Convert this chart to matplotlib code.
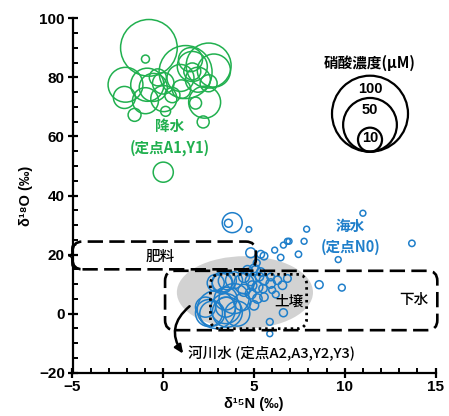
import numpy as np
import matplotlib
matplotlib.use("Agg")
import matplotlib.pyplot as plt
from matplotlib.patches import Ellipse, FancyBboxPatch
from matplotlib.ticker import MultipleLocator

# ---------------- data ----------------
# precipitation (green): d15N, d18O, nitrate (uM)
rain_x = [-0.79, -0.98, 2.5, 1.23, 2.79, -2.08, -0.88, -0.55, 0.95, 1.6, -2.14, -0.98,
          0.03, -1.58, 0.13, 2.28, 1.78, 2.2, 1.91, 1.6, 0.0, 1.0, -0.3, 2.5, 1.5, 0.5, 0.0]
rain_y = [90.0, 86.2, 84.0, 81.8, 82.3, 77.5, 77.5, 76.6, 79.8, 83.7, 73.2, 72.1,
          72.8, 67.3, 68.5, 71.6, 71.3, 64.9, 79.2, 82.0, 78.0, 76.0, 80.0, 78.0, 86.0, 74.0, 47.9]
rain_c = [55.6, 1.1, 35.0, 48.6, 19.0, 21.0, 19.0, 13.6, 12.6, 15.6, 8.4, 11.7,
          11.7, 2.9, 1.7, 17.7, 2.5, 2.5, 10.8, 5.0, 8.0, 6.0, 5.0, 5.0, 10.0, 4.0, 7.0]

# river / sea water (blue)
river_x = [3.8, 3.59, 4.72, 7.9, 6.84, 6.62, 6.14, 7.76, 7.45, 6.47, 9.64, 8.59, 9.84,
           5.55, 4.82, 5.37, 5.15, 6.62, 5.87, 5.87, 11.0, 13.7, 6.93,
           2.92, 3.44, 3.44, 3.9, 3.25, 3.53, 2.89, 4.45, 4.08, 2.7, 2.33, 3.53, 2.52,
           3.44, 4.36, 3.25, 3.9,
           4.82, 5.19, 5.55, 5.92, 6.29, 6.57, 6.84, 4.82, 5.19, 5.55, 5.0, 4.45, 4.64,
           5.0, 5.37, 5.92, 4.45, 5.1, 6.0, 5.5, 4.9, 5.3, 6.2]
river_y = [30.8, 30.6, 28.5, 28.6, 24.5, 23.2, 21.5, 24.5, 20.1, 19.0, 18.3, 9.8, 8.8,
           19.5, 20.6, 20.1, 17.2, 0.3, -2.8, -6.8, 34.0, 23.8, 24.5,
           1.4, 1.7, 2.2, 5.1, 10.2, 11.1, 10.4, 10.2, 0.0, 0.0, 2.2, 0.5, 0.2,
           5.1, 3.9, 10.7, 11.3,
           11.3, 9.0, 11.3, 10.2, 11.3, 9.6, 11.9, 6.8, 5.1, 5.6, 2.8, 7.9, 14.7,
           15.3, 14.1, 12.4, 12.4, 14.7, 8.0, 8.5, 9.5, 12.5, 6.5]
river_c = [6.9, 1.1, 0.55, 0.6, 0.6, 0.6, 0.6, 0.6, 0.7, 0.7, 0.6, 1.1, 0.8,
           1.0, 1.7, 1.0, 0.8, 1.1, 0.8, 0.6, 0.6, 0.7, 0.6,
           25.0, 15.6, 7.0, 15.6, 7.0, 5.6, 5.0, 7.0, 10.8, 10.8, 7.0, 15.6, 12.6,
           9.0, 5.0, 7.0, 5.0,
           2.0, 2.0, 1.5, 1.5, 1.2, 1.2, 1.0, 2.0, 1.5, 1.2, 1.5, 2.5, 1.5,
           1.2, 1.2, 1.0, 2.0, 1.5, 0.8, 1.2, 1.5, 1.2, 0.8]

legend_conc = [100, 50, 10]
legend_labels = ["100", "50", "10"]

GREEN = "#21b04f"
BLUE = "#1f7fca"
CJK = ["Noto Sans CJK JP", "DejaVu Sans"]
LAT = ["Liberation Sans", "DejaVu Sans"]

plt.rcParams["font.family"] = LAT
plt.rcParams["font.weight"] = "bold"

W, H = 449, 416
fig = plt.figure(figsize=(W / 100, H / 100), dpi=100)
L, R, B, T = 72.5, 435.5, 43.3, 397.7  # axes box in pixels (from bottom)
ax = fig.add_axes([L / W, B / H, (R - L) / W, (T - B) / H])
ax.set_xlim(-5, 15)
ax.set_ylim(-20, 100)

PX_PER_C = 7.6  # marker diameter (px) per sqrt(uM)


def msize(c):
    d_pt = PX_PER_C * np.sqrt(np.asarray(c, float)) * 0.72
    return d_pt ** 2


# gray soil ellipse
ax.add_patch(Ellipse((4.5, 7.2), 7.5, 24.5, facecolor="#d2d2d2", edgecolor="none", zorder=1))

ax.scatter(rain_x, rain_y, s=msize(rain_c), facecolors="none", edgecolors=GREEN,
           linewidths=1.1, zorder=3, clip_on=False)
ax.scatter(river_x, river_y, s=msize(river_c), facecolors="none", edgecolors=BLUE,
           linewidths=1.1, zorder=3, clip_on=False)

# boxes: rounding must be corrected for the unequal data aspect
xpp = (R - L) / 20.0
ypp = (T - B) / 120.0
aspect = xpp / ypp


def rbox(x0, y0, w, h, ls, lw=1.9, r=0.55):
    p = FancyBboxPatch((x0, y0), w, h, boxstyle=f"round,pad=0,rounding_size={r}",
                       mutation_aspect=aspect, facecolor="none", edgecolor="black",
                       linestyle=ls, linewidth=lw, zorder=4, clip_on=False)
    ax.add_patch(p)


dash = (0, (5.8, 2.4))
rbox(-5, 15.0, 10.1, 9.4, dash)          # fertilizer
rbox(0.1, -5.6, 15.0, 20.1, dash)        # sewage
rbox(2.6, -5.1, 5.3, 18.4, (0, (0.9, 1.4)), lw=2.0)  # soil

ax.text(-5.05, 19.6, "{", fontsize=19, family=LAT, fontweight="normal", ha="center",
        va="center", zorder=5)

# arrow for river water
ax.annotate("", xy=(1.1, -13.6), xytext=(1.45, 2.5),
            arrowprops=dict(arrowstyle="-|>,head_length=0.5,head_width=0.22", color="black",
                            lw=1.8, connectionstyle="arc3,rad=0.45", shrinkA=0, shrinkB=0),
            zorder=5)

# labels
fs = 10.5
ax.text(0.35, 63.4, "降水", color=GREEN, fontsize=fs, family=CJK, fontweight="bold",
        ha="center", va="center")
ax.text(0.35, 56.2, "(定点A1,Y1)", color=GREEN, fontsize=fs, family=CJK, fontweight="bold",
        ha="center", va="center")
ax.text(10.3, 29.6, "海水", color=BLUE, fontsize=fs, family=CJK, fontweight="bold",
        ha="center", va="center")
ax.text(10.35, 22.6, "(定点N0)", color=BLUE, fontsize=fs, family=CJK, fontweight="bold",
        ha="center", va="center")
ax.text(-0.15, 19.2, "肥料", fontsize=fs, family=CJK, fontweight="medium", ha="center",
        va="center", zorder=6)
ax.text(6.93, 3.9, "土壌", fontsize=fs, family=CJK, fontweight="medium", ha="center",
        va="center", zorder=6)
ax.text(13.8, 4.5, "下水", fontsize=fs, family=CJK, fontweight="medium", ha="center",
        va="center", zorder=6)
ax.text(1.38, -13.5, "河川水 (定点A2,A3,Y2,Y3)", fontsize=fs, family=CJK,
        fontweight="medium", ha="left", va="center", zorder=6)

# axes styling
for s in ["top", "right"]:
    ax.spines[s].set_visible(False)
for s in ["left", "bottom"]:
    ax.spines[s].set_linewidth(1.6)
ax.xaxis.set_major_locator(MultipleLocator(5))
ax.xaxis.set_minor_locator(MultipleLocator(1))
ax.yaxis.set_major_locator(MultipleLocator(20))
ax.yaxis.set_minor_locator(MultipleLocator(5))
ax.tick_params(which="major", direction="inout", length=7, width=1.6, labelsize=11, pad=2)
ax.tick_params(which="minor", direction="in", length=3.5, width=1.4)
ax.set_xlabel("δ¹⁵N (‰)", fontsize=10.5, fontweight="bold", labelpad=2)
ax.set_ylabel("δ¹⁸O (‰)", fontsize=10.5, fontweight="bold", labelpad=4)

# legend (pixel overlay)
ov = fig.add_axes([0, 0, 1, 1], zorder=10)
ov.set_xlim(0, W)
ov.set_ylim(H, 0)
ov.axis("off")
ov.patch.set_alpha(0)
cx, base = 370, 151.7
label_y = [89, 110, 137.5]
for c, lab, ly in zip(legend_conc, legend_labels, label_y):
    r = PX_PER_C * np.sqrt(c) / 2
    ov.scatter([cx], [base - r], s=msize(c), facecolors="none", edgecolors="black",
               linewidths=1.6)
    ov.text(cx, ly, lab, fontsize=10.5, fontweight="bold", ha="center", va="center")
ov.text(cx, 63.3, "硝酸濃度(μM)", fontsize=10.5, fontweight="bold", family=CJK,
        ha="center", va="center")

fig.savefig("out.png", dpi=100)
